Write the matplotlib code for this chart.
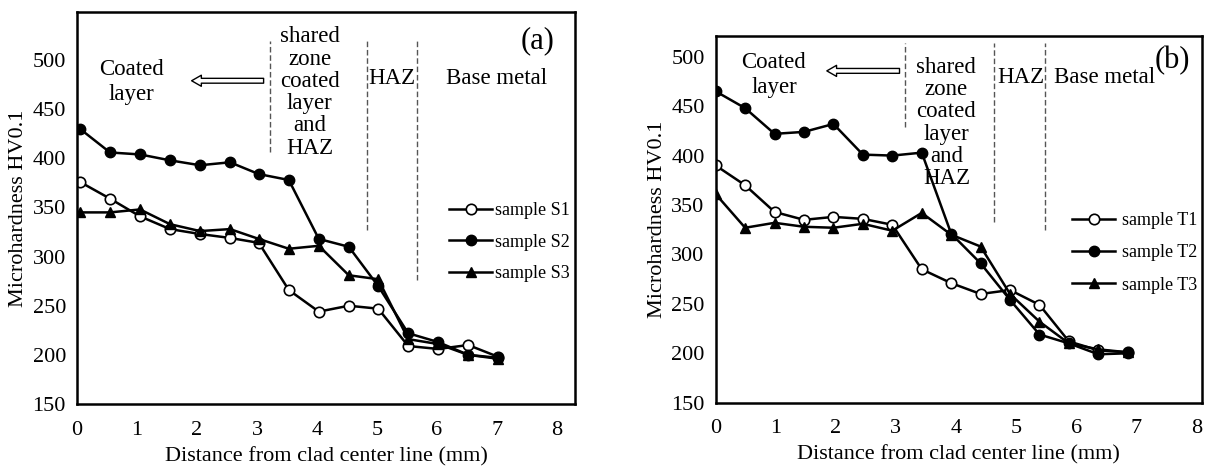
import matplotlib
matplotlib.use("Agg")
import matplotlib.pyplot as plt

plt.rcParams['font.family'] = ['Liberation Serif', 'DejaVu Serif']

# Panel (a) data
xa = [0.05, 0.55, 1.05, 1.55, 2.05, 2.55, 3.03, 3.53, 4.03, 4.53, 5.02, 5.52, 6.02, 6.52, 7.02]
s1 = [376, 359, 341, 328, 323, 319, 314, 266, 244, 250, 247, 209, 206, 210, 198]
s2 = [430, 406, 404, 398, 393, 396, 384, 378, 318, 310, 270, 222, 213, 200, 197]
s3 = [345, 345, 348, 333, 326, 328, 318, 308, 311, 281, 277, 216, 211, 200, 196]

# Panel (b) data
xb = [0.0, 0.49, 0.98, 1.47, 1.96, 2.45, 2.94, 3.43, 3.92, 4.41, 4.90, 5.39, 5.88, 6.37, 6.86]
t1 = [390, 370, 343, 335, 338, 336, 330, 285, 271, 260, 264, 249, 212, 203, 201]
t2 = [465, 448, 422, 424, 432, 401, 400, 403, 321, 291, 254, 219, 210, 199, 200]
t3 = [361, 327, 332, 328, 327, 331, 324, 342, 320, 308, 260, 232, 210, 204, 201]

xticks = [0, 1, 2, 3, 4, 5, 6, 7, 8]
yticks = [150, 200, 250, 300, 350, 400, 450, 500]

fig = plt.figure(figsize=(12.11, 4.68), dpi=100)
ax1 = fig.add_axes([0.0636, 0.1368, 0.4112, 0.8376])
ax2 = fig.add_axes([0.5910, 0.1395, 0.4013, 0.7836])

def style(ax, xmax, ymax):
    ax.set_xlim(0, xmax)
    ax.set_ylim(150, ymax)
    ax.set_xticks(xticks)
    ax.set_yticks(yticks)
    ax.tick_params(length=0, labelsize=16)
    ax.tick_params(axis='x', pad=12)
    ax.tick_params(axis='y', pad=8)
    for sp in ax.spines.values():
        sp.set_linewidth(1.8)
    ax.set_xlabel('Distance from clad center line (mm)', fontsize=16, labelpad=5)
    ax.set_ylabel('Microhardness HV0.1', fontsize=16, labelpad=3)

def series(ax, x, ys, labels):
    kw = dict(color='black', lw=1.8, ms=7.5)
    ax.plot(x, ys[0], marker='o', mfc='white', mec='black', mew=1.2, label=labels[0], **kw)
    ax.plot(x, ys[1], marker='o', mfc='black', mec='black', label=labels[1], **kw)
    ax.plot(x, ys[2], marker='^', mfc='black', mec='black', label=labels[2], **kw)

def arrow(ax, x0, x1, y):
    ax.annotate('', xy=(x1, y), xytext=(x0, y),
                arrowprops=dict(arrowstyle='simple,head_length=0.7,head_width=0.8,tail_width=0.35',
                                fc='white', ec='black', lw=1.0, shrinkA=0, shrinkB=0))

ann = 16.5
# ---- Panel (a)
style(ax1, 8.3, 549)
series(ax1, xa, [s1, s2, s3], ['sample S1', 'sample S2', 'sample S3'])
for xv, ytop, ybot in [(3.22, 519, 406), (4.84, 519, 327), (5.67, 519, 276)]:
    ax1.plot([xv, xv], [ybot, ytop], color='#555555', lw=1.0, ls=(0, (4, 2)))
ax1.text(0.91, 478, 'Coated\nlayer', ha='center', va='center', fontsize=ann, linespacing=1.25)
ax1.text(3.88, 467, 'shared\nzone\ncoated\nlayer\nand\nHAZ', ha='center', va='center', fontsize=ann, linespacing=1.08)
ax1.text(5.24, 481, 'HAZ', ha='center', va='center', fontsize=ann)
ax1.text(7.0, 481, 'Base metal', ha='center', va='center', fontsize=ann)
ax1.text(7.68, 520, '(a)', ha='center', va='center', fontsize=22)
arrow(ax1, 3.11, 1.91, 479)
ax1.legend(loc='upper left', bbox_to_anchor=(0.747, 0.515), frameon=False, fontsize=13,
           handlelength=2.4, handletextpad=0.15, labelspacing=0.8, borderaxespad=0, borderpad=0)

# ---- Panel (b)
style(ax2, 8.09, 521)
series(ax2, xb, [t1, t2, t3], ['sample T1', 'sample T2', 'sample T3'])
for xv, ytop, ybot in [(3.15, 514, 429), (4.63, 514, 333), (5.48, 514, 325)]:
    ax2.plot([xv, xv], [ybot, ytop], color='#555555', lw=1.0, ls=(0, (4, 2)))
ax2.text(0.97, 482, 'Coated\nlayer', ha='center', va='center', fontsize=ann, linespacing=1.25)
ax2.text(3.84, 433, 'shared\nzone\ncoated\nlayer\nand\nHAZ', ha='center', va='center', fontsize=ann, linespacing=1.08)
ax2.text(5.08, 479, 'HAZ', ha='center', va='center', fontsize=ann)
ax2.text(6.47, 479, 'Base metal', ha='center', va='center', fontsize=ann)
ax2.text(7.6, 496, '(b)', ha='center', va='center', fontsize=22)
arrow(ax2, 3.06, 1.85, 485.7)
ax2.legend(loc='upper left', bbox_to_anchor=(0.733, 0.52), frameon=False, fontsize=13,
           handlelength=2.4, handletextpad=0.4, labelspacing=0.85, borderaxespad=0, borderpad=0)

fig.savefig('out.png', dpi=100)
